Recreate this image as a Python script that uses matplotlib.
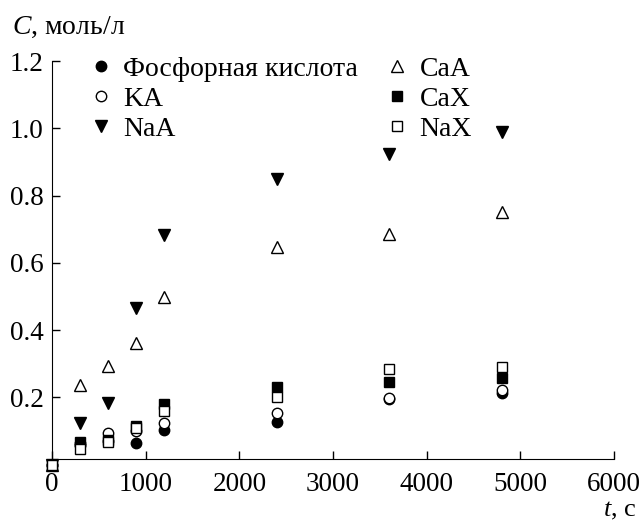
import matplotlib.pyplot as plt
from matplotlib.ticker import FormatStrFormatter

plt.rcParams['font.family'] = ['Liberation Serif', 'DejaVu Serif']
plt.rcParams['mathtext.fontset'] = 'custom'
plt.rcParams['mathtext.it'] = 'Liberation Serif:italic'
plt.rcParams['mathtext.rm'] = 'Liberation Serif'

# время, с
t = [0, 300, 600, 900, 1200, 2400, 3600, 4800]

# концентрации, моль/л
phos = [0, 0.065, 0.070, 0.066, 0.103, 0.128, 0.195, 0.212]
ka = [0, 0.060, 0.095, 0.100, 0.123, 0.153, 0.198, 0.222]
naa = [0, 0.125, 0.185, 0.466, 0.684, 0.848, 0.923, 0.988]
caa = [0, 0.237, 0.294, 0.361, 0.499, 0.648, 0.687, 0.751]
cax = [0, 0.068, 0.075, 0.115, 0.180, 0.232, 0.247, 0.257]
nax = [0, 0.047, 0.068, 0.108, 0.159, 0.202, 0.284, 0.292]

fig = plt.figure(figsize=(6.43, 5.22), dpi=100)
ax = fig.add_axes([0.081, 0.12, 0.874, 0.763])

ax.plot(t, phos, 'o', color='black', ms=7.5, label='Фосфорная кислота', clip_on=False)
ax.plot(t, ka, 'o', mfc='white', mec='black', mew=1, ms=7.5, label='KA', clip_on=False)
ax.plot(t, naa, 'v', color='black', ms=9, label='NaA', clip_on=False)
ax.plot(t, caa, '^', mfc='white', mec='black', mew=1, ms=9, label='CaA', clip_on=False)
ax.plot(t, cax, 's', color='black', ms=7, label='CaX', clip_on=False)
ax.plot(t, nax, 's', mfc='white', mec='black', mew=1, ms=7, label='NaX', clip_on=False)

ax.set_xlim(0, 6000)
ax.set_ylim(0.016, 1.2)
ax.set_xticks([0, 1000, 2000, 3000, 4000, 5000, 6000])
ax.set_yticks([0.2, 0.4, 0.6, 0.8, 1.0, 1.2])
ax.yaxis.set_major_formatter(FormatStrFormatter('%.1f'))
ax.tick_params(direction='in', length=6, width=1, labelsize=19.5)
ax.tick_params(axis='x', pad=9)
ax.tick_params(axis='y', pad=6)
ax.spines['top'].set_visible(False)
ax.spines['right'].set_visible(False)

fig.text(0.018, 0.947, r'$\mathit{C}$, моль/л', fontsize=20, ha='left', va='center')
fig.text(0.99, 0.0, r'$\mathit{t}$, с', fontsize=19, ha='right', va='bottom')

ax.legend(ncol=2, loc='upper left', bbox_to_anchor=(0.0676, 1.012), frameon=False,
          fontsize=20, handletextpad=0.4, columnspacing=1.0, labelspacing=0.16,
          handlelength=0.8, borderpad=0, borderaxespad=0)

fig.savefig('out.png', dpi=100)
